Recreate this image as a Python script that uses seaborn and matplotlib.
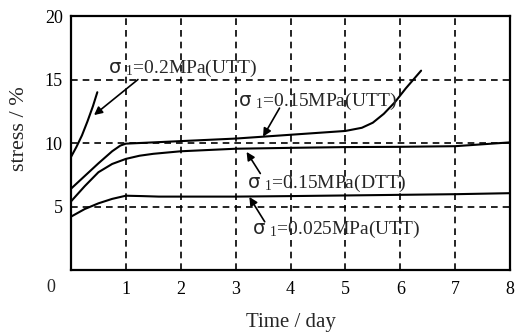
import matplotlib
matplotlib.use("Agg")
import matplotlib.pyplot as plt
import seaborn as sns
import pandas as pd

# ---- data ----
t_02 = [0.0, 0.1, 0.2, 0.3, 0.4, 0.48]
s_02 = [8.9, 9.7, 10.6, 11.7, 12.9, 14.0]

t_015u = [0.0, 0.25, 0.5, 0.75, 0.9, 1.0, 1.5, 2.0, 3.0, 4.0, 5.0, 5.3, 5.5, 5.7, 5.9, 6.1, 6.38]
s_015u = [6.4, 7.4, 8.4, 9.35, 9.8, 9.95, 10.05, 10.15, 10.35, 10.65, 10.95, 11.2, 11.6, 12.3, 13.2, 14.3, 15.7]

t_015d = [0.0, 0.25, 0.5, 0.75, 1.0, 1.25, 1.5, 2.0, 3.0, 4.0, 5.0, 6.0, 7.0, 8.0]
s_015d = [5.4, 6.6, 7.7, 8.35, 8.75, 9.0, 9.15, 9.35, 9.55, 9.62, 9.68, 9.7, 9.75, 10.05]

t_0025 = [0.0, 0.25, 0.5, 0.75, 1.0, 1.3, 1.6, 2.0, 3.0, 4.0, 5.0, 6.0, 7.0, 8.0]
s_0025 = [4.2, 4.8, 5.25, 5.6, 5.85, 5.82, 5.78, 5.78, 5.78, 5.82, 5.87, 5.92, 5.97, 6.05]

x_ticks = [1, 2, 3, 4, 5, 6, 7, 8]
y_ticks = [5, 10, 15, 20]

labels = [r"$\mathsf{\sigma}$ $_{1}$=0.2MPa(UTT)",
          r"$\mathsf{\sigma}$ $_{1}$=0.15MPa(UTT)",
          r"$\mathsf{\sigma}$ $_{1}$=0.15MPa(DTT)",
          r"$\mathsf{\sigma}$ $_{1}$=0.025MPa(UTT)"]
text_xy = [(0.67, 15.9), (3.05, 13.3), (3.2, 6.8), (3.3, 3.2)]
arrow_tail = [(1.22, 15.0), (3.8, 12.75), (3.45, 7.6), (3.53, 3.8)]
arrow_head = [(0.42, 12.2), (3.5, 10.5), (3.2, 9.3), (3.25, 5.75)]

series = [(t_02, s_02), (t_015u, s_015u), (t_015d, s_015d), (t_0025, s_0025)]

# ---- style ----
sns.set_style("white")
plt.rcParams['font.family'] = ['Liberation Serif', 'DejaVu Sans']
plt.rcParams['mathtext.fontset'] = 'custom'
plt.rcParams['mathtext.rm'] = 'Liberation Serif'
plt.rcParams['mathtext.sf'] = 'DejaVu Sans'
plt.rcParams['mathtext.default'] = 'rm'

fig = plt.figure(figsize=(5.17, 3.34), dpi=100)
ax = fig.add_axes([0.1373, 0.1916, 0.8492, 0.7604])

for i, (t, s) in enumerate(series):
    df = pd.DataFrame({"time": t, "stress": s})
    sns.lineplot(data=df, x="time", y="stress", ax=ax, color="black",
                 linewidth=1.5, sort=False)

ax.set_xlim(0, 8)
ax.set_ylim(0, 20)
ax.set_xticks(x_ticks)
ax.set_yticks(y_ticks)
ax.tick_params(length=0, labelsize=13, colors="black")
ax.tick_params(axis="x", pad=8)
ax.tick_params(axis="y", pad=6)

for x in x_ticks[:-1]:
    ax.axvline(x, color="black", linestyle=(0, (4, 3)), linewidth=1.2, zorder=1)
for y in y_ticks[:-1]:
    ax.axhline(y, color="black", linestyle=(0, (4, 3)), linewidth=1.2, zorder=1)

for sp in ax.spines.values():
    sp.set_color("black")
    sp.set_linewidth(1.6)

ax.text(-0.047, -0.035, "0", transform=ax.transAxes, ha="center", va="top", fontsize=13)

ax.set_xlabel("Time / day", fontsize=15)
ax.set_ylabel("stress / %", fontsize=16)
ax.xaxis.set_label_coords(0.5, -0.17)
ax.yaxis.set_label_coords(-0.095, 0.555)

for lab, txy, tail, head in zip(labels, text_xy, arrow_tail, arrow_head):
    ax.text(txy[0], txy[1], lab, fontsize=14, ha="left", va="center")
    ax.annotate("", xy=head, xytext=tail,
                arrowprops=dict(arrowstyle="-|>", color="black", lw=1.2,
                                mutation_scale=12, shrinkA=0, shrinkB=0))

fig.savefig("out.png", dpi=100)
